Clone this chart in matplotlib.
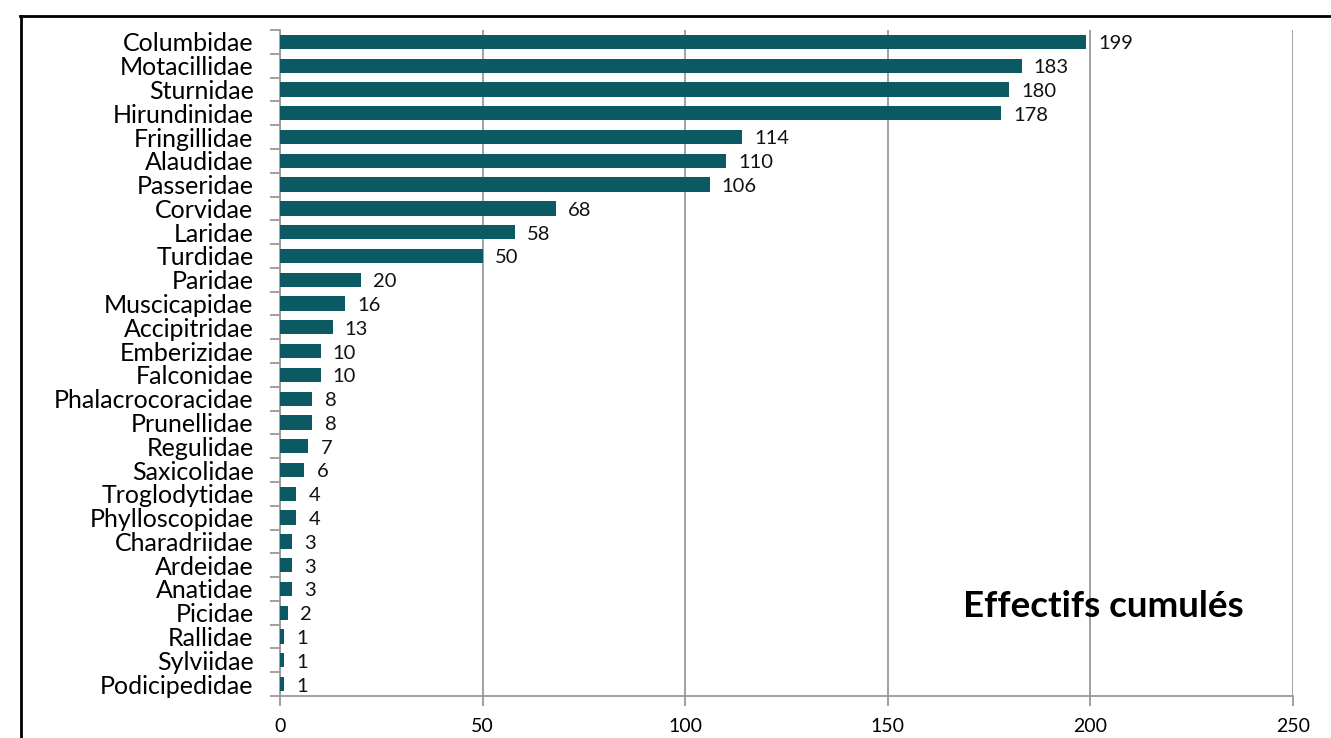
import matplotlib
matplotlib.use("Agg")
import matplotlib.pyplot as plt
from matplotlib.lines import Line2D
import numpy as np

families = ["Columbidae", "Motacillidae", "Sturnidae", "Hirundinidae", "Fringillidae",
            "Alaudidae", "Passeridae", "Corvidae", "Laridae", "Turdidae", "Paridae",
            "Muscicapidae", "Accipitridae", "Emberizidae", "Falconidae",
            "Phalacrocoracidae", "Prunellidae", "Regulidae", "Saxicolidae",
            "Troglodytidae", "Phylloscopidae", "Charadriidae", "Ardeidae", "Anatidae",
            "Picidae", "Rallidae", "Sylviidae", "Podicipedidae"]
counts = [199, 183, 180, 178, 114, 110, 106, 68, 58, 50, 20, 16, 13, 10, 10,
          8, 8, 7, 6, 4, 4, 3, 3, 3, 2, 1, 1, 1]
x_ticks = [0, 50, 100, 150, 200, 250]

plt.rcParams['font.family'] = ['Lato', 'DejaVu Sans']

fig = plt.figure(figsize=(13.31, 7.38), dpi=100)
ax = fig.add_axes([280 / 1331, 1 - 696 / 738, (1293 - 280) / 1331, (696 - 30) / 738])

bar_color = "#0b5a63"
grid_color = "#9a9a9a"
n = len(families)
ypos = np.arange(n)
ax.barh(ypos, counts, height=0.6, color=bar_color, zorder=3)
for y, v in zip(ypos, counts):
    ax.text(v + 3, y + 0.08, str(v), va="center", ha="left", fontsize=14.5, color="#111111")

ax.set_xlim(0, 250)
ax.set_ylim(n - 0.5, -0.5)
ax.set_xticks(x_ticks)
ax.set_xticklabels([str(t) for t in x_ticks], fontsize=14)
ax.xaxis.grid(True, color=grid_color, linewidth=1.3, zorder=0)
ax.tick_params(axis="x", length=7, width=1.3, color=grid_color, pad=9)

ax.set_yticks(ypos)
ax.set_yticklabels(families, fontsize=18)
ax.set_yticks(np.arange(n + 1) - 0.5, minor=True)
ax.tick_params(axis="y", which="major", length=0, pad=19)
ax.tick_params(axis="y", which="minor", length=7, width=1.3, color=grid_color)

for side in ("top", "right"):
    ax.spines[side].set_visible(False)
for side in ("left", "bottom"):
    ax.spines[side].set_color(grid_color)
    ax.spines[side].set_linewidth(1.3)

ax.text(0.813, 0.135, "Effectifs cumulés", transform=ax.transAxes, ha="center",
        va="center", fontsize=26.5, fontweight="bold", color="black")

# outer frame (top and left edges)
fig.add_artist(Line2D([20 / 1331, 1.0], [1 - 15.5 / 738, 1 - 15.5 / 738],
                      transform=fig.transFigure, color="black", linewidth=2))
fig.add_artist(Line2D([20.5 / 1331, 20.5 / 1331], [0, 1 - 15.5 / 738],
                      transform=fig.transFigure, color="black", linewidth=2))

fig.savefig("out.png", dpi=100, facecolor="white")
